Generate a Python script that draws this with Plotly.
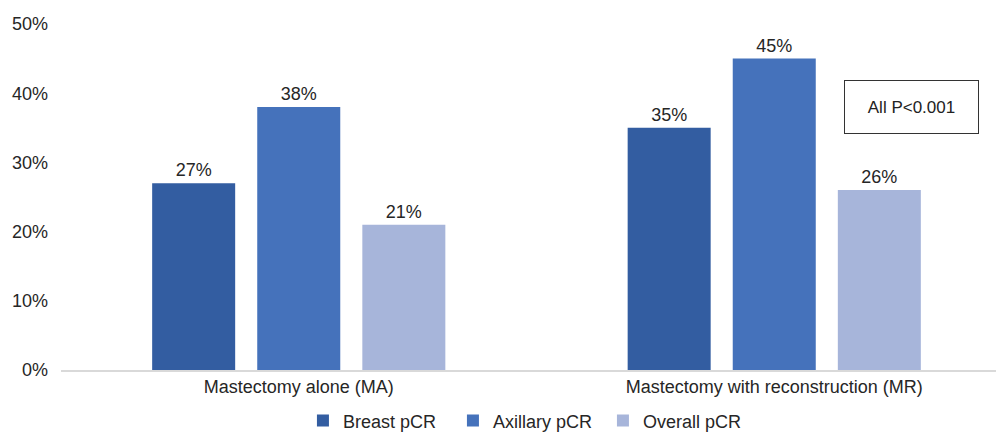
import plotly.graph_objects as go

categories = ["Mastectomy alone (MA)", "Mastectomy with reconstruction (MR)"]
series_names = ["Breast pCR", "Axillary pCR", "Overall pCR"]
breast = [27, 35]
axillary = [38, 45]
overall = [21, 26]
y_ticks = [0, 10, 20, 30, 40, 50]
colors = ["#335DA1", "#4572BB", "#A7B5DA"]

fig = go.Figure()
for name, vals, c in zip(series_names, [breast, axillary, overall], colors):
    fig.add_trace(go.Bar(
        x=categories, y=vals, name=name, marker_color=c,
        marker_line_width=0,
        text=[f"{v}%" for v in vals], textposition="outside",
        textfont=dict(size=18, color="#262626"), cliponaxis=False,
    ))

fig.add_annotation(
    x=1.289, y=38.0, xref="x", yref="y", text="All P<0.001", showarrow=False,
    font=dict(size=17, color="#222222"), bordercolor="#333333", borderwidth=1,
    width=131, height=50, bgcolor="white",
)

fig.update_layout(
    width=1004, height=434,
    margin=dict(l=53, r=0, t=16, b=72),
    plot_bgcolor="white", paper_bgcolor="white",
    barmode="group", bargap=0.337, bargroupgap=0.21,
    font=dict(family="Liberation Sans, Arial, sans-serif", size=18, color="#262626"),
    xaxis=dict(range=[-0.5, 1.5], showline=True, linecolor="#D9D9D9", linewidth=1.5,
               ticks="", tickfont=dict(size=18, color="#262626")),
    yaxis=dict(range=[0, 50], tickvals=y_ticks, ticktext=[f"{t}%" for t in y_ticks],
               showgrid=False, zeroline=False, ticks="", ticklabelstandoff=12,
               tickfont=dict(size=18, color="#262626")),
    legend=dict(orientation="h", x=0.491, xanchor="center", y=-0.147, yanchor="middle",
                font=dict(size=18, color="#262626"), itemwidth=30,
                entrywidth=105, entrywidthmode="pixels",
                traceorder="normal"),
    showlegend=True,
)

fig.write_html("out.html")
